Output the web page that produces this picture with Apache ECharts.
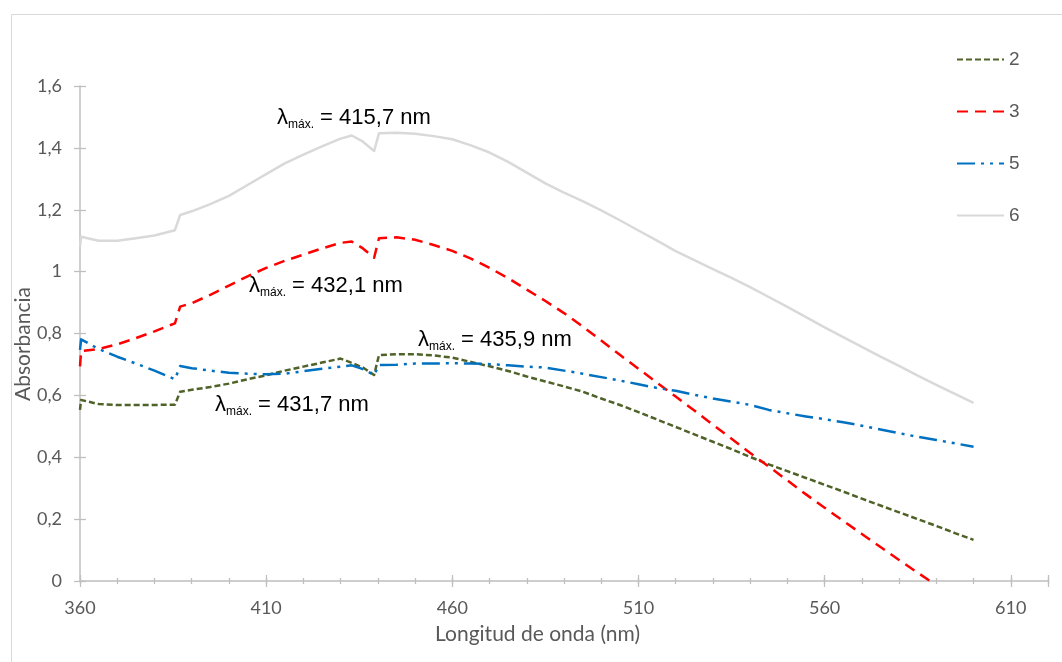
<!DOCTYPE html>
<html>
<head>
<meta charset="utf-8">
<title>Absorbancia</title>
<script src="https://cdn.jsdelivr.net/npm/echarts@6/dist/echarts.min.js"></script>
<style>
    html, body { margin: 0; padding: 0; background: #fff; }
    #chart { width: 1062px; height: 662px; }
</style>
</head>
<body>
<div id="chart"></div>
<script>
// wavelengths (nm) shared by all the spectra
var wavelength = [360, 360.3, 365, 370, 375, 380, 385.5, 386.9, 390, 395, 400, 405, 410, 415, 420, 425, 430, 433, 436, 439, 440.3,
    445, 450, 455, 460, 465, 470, 475, 480, 485, 490, 495, 500, 505, 510, 515, 520, 525, 530, 535, 540, 545, 550, 555, 560,
    565, 570, 575, 580, 585, 590, 595, 600];

var abs2 = [0.553, 0.585, 0.572, 0.569, 0.569, 0.569, 0.570, 0.612, 0.618, 0.627, 0.638, 0.652, 0.665, 0.680, 0.693, 0.706, 0.719, 0.705, 0.690, 0.666, 0.730,
    0.733, 0.733, 0.729, 0.722, 0.708, 0.694, 0.679, 0.661, 0.645, 0.629, 0.612, 0.590, 0.569, 0.546, 0.522, 0.498, 0.474, 0.450, 0.426, 0.401, 0.377, 0.355, 0.333, 0.311,
    0.289, 0.266, 0.244, 0.222, 0.200, 0.178, 0.155, 0.133];

var abs3 = [0.694, 0.743, 0.750, 0.765, 0.785, 0.807, 0.833, 0.887, 0.898, 0.925, 0.955, 0.985, 1.012, 1.035, 1.055, 1.075, 1.093, 1.097, 1.075, 1.045, 1.108,
    1.111, 1.103, 1.086, 1.067, 1.042, 1.012, 0.979, 0.942, 0.905, 0.866, 0.823, 0.777, 0.731, 0.686, 0.641, 0.596, 0.551, 0.505, 0.460, 0.414, 0.370, 0.325, 0.280, 0.237,
    0.194, 0.152, 0.110, 0.068, 0.027, -0.014, -0.055, -0.095];

var abs5 = [0.747, 0.781, 0.750, 0.725, 0.703, 0.680, 0.652, 0.695, 0.688, 0.680, 0.673, 0.670, 0.668, 0.670, 0.678, 0.686, 0.693, 0.697, 0.685, 0.666, 0.698,
    0.699, 0.703, 0.703, 0.704, 0.703, 0.701, 0.697, 0.693, 0.690, 0.680, 0.670, 0.659, 0.648, 0.636, 0.624, 0.615, 0.602, 0.590, 0.580, 0.569, 0.553, 0.542, 0.532, 0.523,
    0.513, 0.502, 0.490, 0.478, 0.466, 0.456, 0.445, 0.434];

var abs6 = [1.080, 1.113, 1.100, 1.100, 1.108, 1.117, 1.134, 1.183, 1.195, 1.218, 1.245, 1.280, 1.315, 1.350, 1.378, 1.405, 1.430, 1.440, 1.420, 1.390, 1.447,
    1.449, 1.446, 1.438, 1.428, 1.408, 1.385, 1.355, 1.320, 1.285, 1.255, 1.228, 1.198, 1.166, 1.133, 1.100, 1.066, 1.037, 1.008, 0.980, 0.950, 0.918, 0.886, 0.853, 0.820,
    0.788, 0.757, 0.725, 0.695, 0.664, 0.634, 0.605, 0.576];

var seriesNames = ['2', '3', '5', '6'];
var lambdaLabels = ['415,7', '432,1', '435,9', '431,7'];

var dom = document.getElementById("chart");
var myChart = echarts.init(dom);

function pairs(ys) {
    var out = [];
    for (var i = 0; i < wavelength.length; i++) {
        out.push([wavelength[i], ys[i]]);
    }
    return out;
}

// extra invisible axes only to draw Excel-like crossing tick marks
function tickAxisX(interval, inside, len) {
    return {
        type: 'value', min: 360, max: 620, interval: interval, position: 'bottom',
        axisLine: { show: false }, axisLabel: { show: false }, splitLine: { show: false },
        axisTick: { show: true, inside: inside, length: len, lineStyle: { color: '#bfbfbf', width: 1.3 } }
    };
}
function tickAxisY(inside, len) {
    return {
        type: 'value', min: 0, max: 1.6, interval: 0.2, position: 'left',
        axisLine: { show: false }, axisLabel: { show: false }, splitLine: { show: false },
        axisTick: { show: true, inside: inside, length: len, lineStyle: { color: '#bfbfbf', width: 1.3 } }
    };
}

function lambdaText(x, y, val) {
    return {
        type: 'text', left: x, top: y, z: 20,
        style: {
            text: '{a|λ}{s|máx.}{a| = ' + val + ' nm}',
            rich: {
                a: { fontSize: 22, fontFamily: 'Liberation Sans', fill: '#000', lineHeight: 22, verticalAlign: 'top' },
                s: { fontSize: 12, fontFamily: 'Liberation Sans', fill: '#000', lineHeight: 36 }
            }
        }
    };
}

function lineSeries(name, color, dash, ys) {
    return {
        name: name, type: 'line', symbol: 'none', clip: true,
        lineStyle: { color: color, width: 2.5, type: dash, join: 'round' },
        itemStyle: { color: color },
        data: pairs(ys)
    };
}

var labelFont = { color: '#595959', fontSize: 18, fontFamily: 'Lato' };

option = {
    animation: false,
    backgroundColor: '#fff',
    grid: { left: 80, right: 14, top: 86, bottom: 81, containLabel: false },
    legend: {
        orient: 'vertical',
        left: 956,
        top: 50,
        padding: 0,
        itemWidth: 47,
        itemHeight: 14,
        itemGap: 33,
        data: seriesNames,
        itemStyle: { opacity: 0 },
        textStyle: { color: '#595959', fontSize: 19, fontFamily: 'Liberation Sans' }
    },
    xAxis: [
        {
            type: 'value', min: 360, max: 620, interval: 10, position: 'bottom',
            axisLine: { show: true, lineStyle: { color: '#bfbfbf', width: 1.5 } },
            axisTick: { show: true, length: 3, lineStyle: { color: '#bfbfbf', width: 1.3 } },
            splitLine: { show: false },
            axisLabel: {
                color: labelFont.color, fontSize: labelFont.fontSize, fontFamily: labelFont.fontFamily, margin: 18,
                formatter: function (v) {
                    if ((v - 360) % 50 === 0) return String(v);
                    return '';
                }
            }
        },
        tickAxisX(10, true, 3),
        tickAxisX(50, false, 6),
        tickAxisX(50, true, 6)
    ],
    yAxis: [
        {
            type: 'value', min: 0, max: 1.6, interval: 0.2,
            axisLine: { show: true, lineStyle: { color: '#bfbfbf', width: 1.5 } },
            axisTick: { show: true, length: 6, lineStyle: { color: '#bfbfbf', width: 1.3 } },
            splitLine: { show: false },
            axisLabel: {
                color: labelFont.color, fontSize: labelFont.fontSize, fontFamily: labelFont.fontFamily, margin: 18,
                formatter: function (v) {
                    return String(Number(v.toFixed(1))).replace('.', ',');
                }
            }
        },
        tickAxisY(true, 6)
    ],
    series: [
        lineSeries(seriesNames[0], '#4f6228', [6, 3], abs2),
        lineSeries(seriesNames[1], '#ff0000', [11, 7], abs3),
        lineSeries(seriesNames[2], '#0070c0', [18, 6, 3, 6, 3, 6], abs5),
        lineSeries(seriesNames[3], '#d9d9d9', 'solid', abs6)
    ],
    graphic: [
        // chart area border
        {
            type: 'rect', left: 9, top: 12, z: -1, silent: true,
            shape: { width: 1080, height: 700 },
            style: { fill: 'none', stroke: '#d9d9d9', lineWidth: 1 }
        },
        {
            type: 'text', left: 435, top: 624,
            style: { text: 'Longitud de onda (nm)', fill: '#595959', fontSize: 21, fontFamily: 'Lato' }
        },
        {
            type: 'text', left: 13, top: 287, rotation: Math.PI / 2,
            style: { text: 'Absorbancia', fill: '#595959', fontSize: 21, fontFamily: 'Lato' }
        },
        lambdaText(277, 107, lambdaLabels[0]),
        lambdaText(249, 275, lambdaLabels[1]),
        lambdaText(418, 329, lambdaLabels[2]),
        lambdaText(215, 394, lambdaLabels[3])
    ]
};

if (option && typeof option === "object") {
    myChart.setOption(option, false);
}
</script>
</body>
</html>
